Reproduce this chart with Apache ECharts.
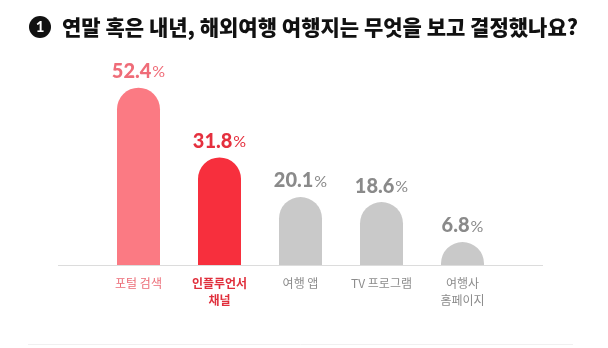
<!DOCTYPE html>
<html>
<head>
<meta charset="utf-8">
<script src="https://cdn.jsdelivr.net/npm/echarts@6/dist/echarts.min.js"></script>
<style>
  html, body { margin: 0; padding: 0; background: #fff; }
  #chart { width: 608px; height: 348px; }
</style>
</head>
<body>
<div id="chart"></div>
<script>
// Survey: what did people use to choose their overseas travel destination
const categories = ['포털 검색', '인플루언서\n채널', '여행 앱', 'TV 프로그램', '여행사\n홈페이지'];
const values = [52.4, 31.8, 20.1, 18.6, 6.8];
const barColors = ['#fb7a83', '#f72f3d', '#c9c9c9', '#c9c9c9', '#c9c9c9'];
const valueColors = ['#ef6c78', '#e5303e', '#8a8a8a', '#8a8a8a', '#8a8a8a'];
const categoryColors = ['#ec6c77', '#e02f3c', '#8c8c8c', '#8c8c8c', '#8c8c8c'];
const categoryWeights = ['normal', 'bold', 'normal', 'normal', 'normal'];
const title = '연말 혹은 내년, 해외여행 여행지는 무엇을 보고 결정했나요?';

const chart = echarts.init(document.getElementById('chart'));

const FONT = '"Noto Sans CJK KR", "Noto Sans", sans-serif';
const NUM_FONT = 'Lato, "Noto Sans", sans-serif';

chart.setOption({
  animation: false,
  backgroundColor: '#ffffff',
  grid: { left: 98, right: 105, top: 62, bottom: 83 },
  xAxis: {
    type: 'category',
    data: categories,
    axisLine: { show: false },
    axisTick: { show: false },
    axisLabel: {
      interval: 0,
      margin: 10,
      fontSize: 12,
      lineHeight: 17,
      fontFamily: FONT,
      formatter: (v, i) => '{c' + i + '|' + v.split('\n').join('}\n{c' + i + '|') + '}',
      rich: Object.fromEntries(categories.map((c, i) => ['c' + i, {
        color: categoryColors[i], fontWeight: categoryWeights[i],
        fontSize: 12, lineHeight: 17, fontFamily: FONT
      }]))
    }
  },
  yAxis: {
    type: 'value',
    min: 0,
    max: 60,
    show: false,
    splitLine: { show: false }
  },
  series: [{
    type: 'bar',
    barWidth: 43,
    data: values.map((v, i) => ({
      value: v,
      itemStyle: { color: barColors[i], borderRadius: [21.5, 21.5, 0, 0] },
      label: {
        rich: {
          n: { fontSize: 20, fontWeight: 900, color: valueColors[i], fontFamily: NUM_FONT },
          p: { fontSize: 16, fontWeight: 'normal', color: valueColors[i], fontFamily: NUM_FONT, padding: [1, 0, 0, 1] }
        }
      }
    })),
    label: {
      show: true,
      position: 'top',
      distance: 6,
      formatter: p => '{n|' + p.value.toFixed(1) + '}{p|%}'
    }
  }],
  graphic: [
    // numbered badge
    { type: 'circle', shape: { cx: 40, cy: 27, r: 11 }, style: { fill: '#111' } },
    { type: 'text', x: 40, y: 27, style: { text: '1', fill: '#fff', fontSize: 15, fontWeight: 'bold', fontFamily: NUM_FONT, align: 'center', verticalAlign: 'middle' } },
    { type: 'text', x: 62, y: 27, style: { text: title, fill: '#111', fontSize: 21, fontWeight: 900, fontFamily: FONT, verticalAlign: 'middle' } },
    // baseline
    { type: 'line', shape: { x1: 58, y1: 265.5, x2: 543, y2: 265.5 }, style: { stroke: '#dcdcdc', lineWidth: 1 } },
    // footer rule
    { type: 'line', shape: { x1: 28, y1: 344.5, x2: 573, y2: 344.5 }, style: { stroke: '#f0f0f0', lineWidth: 1 } }
  ]
});
</script>
</body>
</html>
